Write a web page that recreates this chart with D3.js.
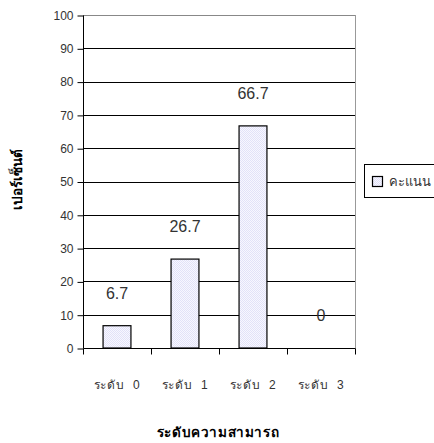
<!DOCTYPE html>
<html><head><meta charset="utf-8">
<script src="https://cdn.jsdelivr.net/npm/d3@7"></script>
<style>body{margin:0;background:#fff}svg{display:block}text{font-family:"Liberation Sans",Arial,sans-serif}</style>
</head><body>
<svg id="c" width="434" height="443"></svg>
<script>
const categories = ["ระดับ  0", "ระดับ  1", "ระดับ  2", "ระดับ  3"];
const values = [6.7, 26.7, 66.7, 0];
const valueLabels = ["6.7", "26.7", "66.7", "0"];
const yTicks = [0, 10, 20, 30, 40, 50, 60, 70, 80, 90, 100];
const seriesName = "คะแนน";
const yTitle = "เปอร์เซ็นต์";
const xTitle = "ระดับความสามารถ";

const svg = d3.select("#c");
const defs = svg.append("defs");
const pat = defs.append("pattern").attr("id","dots").attr("width",2).attr("height",2).attr("patternUnits","userSpaceOnUse");
pat.append("rect").attr("width",2).attr("height",2).attr("fill","#f7f7ff");
pat.append("rect").attr("width",1).attr("height",1).attr("fill","#e2e2f8");
pat.append("rect").attr("x",1).attr("y",1).attr("width",1).attr("height",1).attr("fill","#e2e2f8");

const L = 83, R = 355, T = 15, B = 348;
const x = d3.scaleBand().domain(categories).range([L, R]).paddingInner(0.59).paddingOuter(0.295);
const y = d3.scaleLinear().domain([0, 100]).range([B, T]);

// gridlines
svg.append("g").selectAll("line").data(yTicks.filter(d => d > 0)).join("line")
  .attr("x1", L).attr("x2", R).attr("y1", d => Math.round(y(d)) + 0.5).attr("y2", d => Math.round(y(d)) + 0.5)
  .attr("stroke", d => d === 100 ? "#888" : "#000").attr("stroke-width", 1);
// right border
svg.append("line").attr("x1", R + 0.5).attr("x2", R + 0.5).attr("y1", T).attr("y2", B).attr("stroke", "#999").attr("stroke-width", 1);

// bars
svg.append("g").selectAll("rect").data(values).join("rect")
  .attr("x", (d, i) => x(categories[i]))
  .attr("y", d => y(d))
  .attr("width", x.bandwidth())
  .attr("height", d => B - y(d))
  .attr("fill", "url(#dots)").attr("stroke", d => d > 0 ? "#000" : "none").attr("stroke-width", 1.2);

// y axis
const yAxis = d3.axisLeft(y).tickValues(yTicks).tickSize(6).tickPadding(4);
const gy = svg.append("g").attr("transform", `translate(${L + 0.5},0.5)`).call(yAxis);
gy.select(".domain").attr("stroke", "#000").attr("d", `M0,${T}V${B}`);
gy.selectAll(".tick line").attr("stroke", "#000");
gy.selectAll(".tick text").attr("font-size", 12).attr("fill", "#333").attr("font-family", "Liberation Sans, Arial, sans-serif");

// x axis
const xb = d3.scalePoint().domain([0,1,2,3,4]).range([L, R]);
const gx = svg.append("g").attr("transform", `translate(0.5,${B + 0.5})`);
gx.append("line").attr("x1", L).attr("x2", R).attr("stroke", "#000");
gx.selectAll("line.t").data([0,1,2,3,4]).join("line").attr("class","t")
  .attr("x1", d => xb(d)).attr("x2", d => xb(d)).attr("y1", 0).attr("y2", 6).attr("stroke", "#000");
svg.append("g").selectAll("text").data(categories).join("text")
  .attr("x", d => x(d) + x.bandwidth() / 2).attr("y", 389)
  .attr("text-anchor", "middle").attr("font-size", 12).attr("letter-spacing", 0.8).attr("fill", "#333")
  .style("white-space","pre").attr("xml:space","preserve")
  .text(d => d);

// data labels
svg.append("g").selectAll("text").data(values).join("text")
  .attr("x", (d, i) => x(categories[i]) + x.bandwidth() / 2)
  .attr("y", d => y(d) - 27)
  .attr("text-anchor", "middle").attr("font-size", 16).attr("fill", "#333")
  .text((d, i) => valueLabels[i]);

// titles
svg.append("text").attr("transform", "translate(22,179) rotate(-90)")
  .attr("text-anchor", "middle").attr("font-size", 13.5).attr("font-weight", "bold").attr("fill", "#000").text(yTitle);
svg.append("text").attr("x", 218).attr("y", 437)
  .attr("text-anchor", "middle").attr("font-size", 13.5).attr("font-weight", "bold").attr("letter-spacing", 0.6).attr("fill", "#000").text(xTitle);

// legend
const lg = svg.append("g");
lg.append("rect").attr("x", 364.5).attr("y", 164.5).attr("width", 80).attr("height", 33).attr("fill", "#fff").attr("stroke", "#000");
lg.append("rect").attr("x", 372.5).attr("y", 176.5).attr("width", 10).attr("height", 10).attr("fill", "url(#dots)").attr("stroke", "#000").attr("stroke-width", 1.2);
lg.append("text").attr("x", 389).attr("y", 186).attr("font-size", 13).attr("fill", "#333").text(seriesName);
</script>
</body></html>
